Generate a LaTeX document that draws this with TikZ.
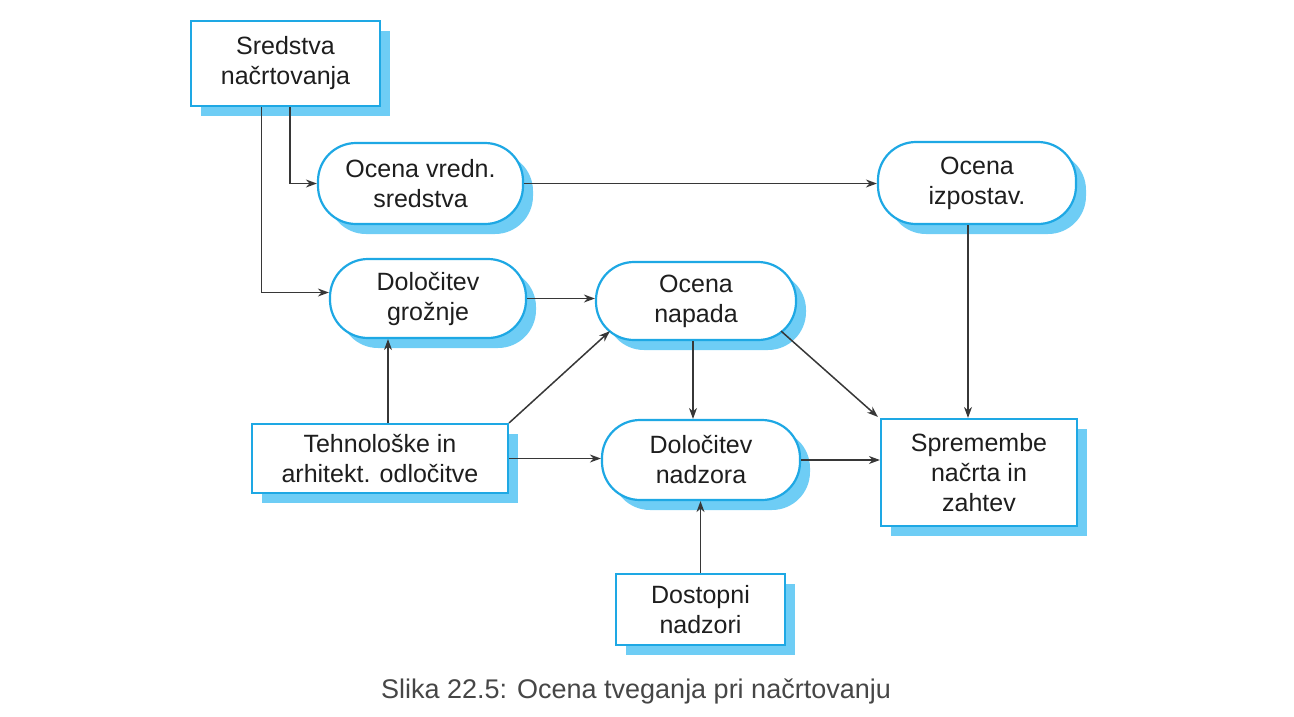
\documentclass[tikz,border=0pt]{standalone}
\usepackage{fontspec}
\setmainfont{Liberation Sans}
\usetikzlibrary{arrows.meta,shadows}
\definecolor{bblue}{RGB}{30,168,228}
\definecolor{sblue}{RGB}{110,205,245}
\definecolor{lgray}{RGB}{55,55,55}
\definecolor{txt}{RGB}{30,30,30}
\definecolor{capc}{RGB}{70,70,70}
\newcommand\diafont{\fontsize{25}{30}\selectfont}
\tikzset{
  box/.style={draw=bblue, line width=2.2pt, fill=white, align=center, text=txt,
    font=\diafont, inner sep=0pt,
    general shadow={fill=sblue, draw=none, shadow xshift=10pt, shadow yshift=-10pt}},
  pill/.style={box, rounded corners=38pt},
  arr/.style={draw=lgray, line width=1.5pt, -{Stealth[length=11pt,width=8pt]}},
}
\begin{document}
\begin{tikzpicture}[x=1pt,y=-1pt]
\useasboundingbox (0,0) rectangle (1294,716);
\node[box, minimum width=189pt, minimum height=85pt] (sred) at (285.5,63.5) {Sredstva\\načrtovanja};
\node[pill, minimum width=205pt, minimum height=81pt] (ovs) at (420.5,183.5) {Ocena vredn.\\sredstva};
\node[pill, minimum width=198pt, minimum height=82pt] (oiz) at (977,183) {Ocena\\izpostav.};
\node[pill, minimum width=196pt, minimum height=79pt] (dg) at (428,298.5) {Določitev\\grožnje};
\node[pill, minimum width=200pt, minimum height=78pt] (on) at (696,301) {Ocena\\napada};
\node[box, minimum width=256pt, minimum height=69pt] (teh) at (380,458.5) {Tehnološke in\\arhitekt. odločitve};
\node[pill, minimum width=198pt, minimum height=80pt] (dn) at (701,460) {Določitev\\nadzora};
\node[box, minimum width=196pt, minimum height=107pt] (spr) at (979,472.5) {Spremembe\\načrta in\\zahtev};
\node[box, minimum width=169pt, minimum height=71pt] (dos) at (700.5,609.5) {Dostopni\\nadzori};
\node[text=capc, font=\fontsize{27}{32}\selectfont] (cap) at (636,691) {Slika 22.5: Ocena tveganja pri načrtovanju};

\draw[arr] ([xshift=-24pt]sred.south) |- ([yshift=6pt]dg.west);
\draw[arr] ([xshift=4.5pt]sred.south) |- (ovs.west);
\draw[arr] (ovs.east) -- (ovs.east -| oiz.west);
\draw[arr] ([xshift=-9pt]oiz.south) -- ([xshift=-9pt]oiz.south |- spr.north);
\draw[arr] (dg.east) -- (dg.east -| on.west);
\draw[arr] ([xshift=8pt]teh.north) -- ([xshift=8pt]teh.north |- dg.south);
\draw[arr] (teh.north east) -- ([xshift=15pt,yshift=10pt]on.south west);
\draw[arr] (teh.east) -- (teh.east -| dn.west);
\draw[arr] ([xshift=-3pt]on.south) -- ([xshift=-3pt]on.south |- dn.north);
\draw[arr] ([xshift=-16pt,yshift=10pt]on.south east) -- ([xshift=-2pt,yshift=1pt]spr.north west);
\draw[arr] (dn.east) -- (dn.east -| spr.west);
\draw[arr] (dos.north) -- (dos.north |- dn.south);
\end{tikzpicture}
\end{document}
